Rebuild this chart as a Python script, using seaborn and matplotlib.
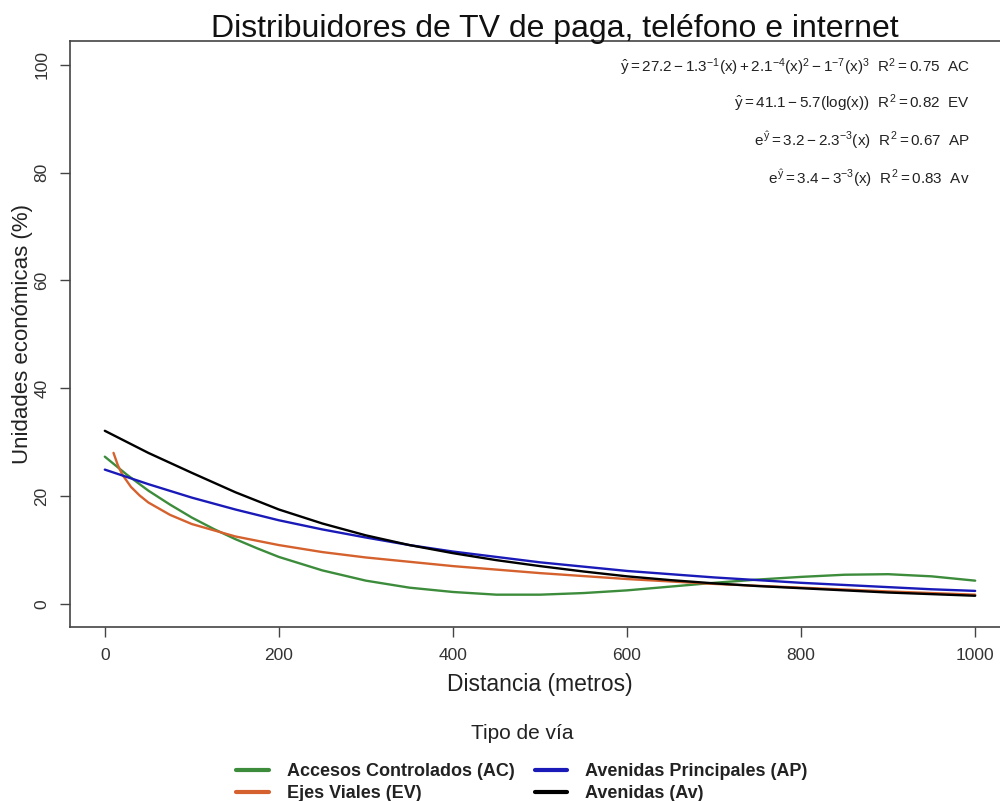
import numpy as np
import pandas as pd
import matplotlib
matplotlib.use("Agg")
import matplotlib.pyplot as plt
import seaborn as sns

# ---- data ----
x_ac = [0, 25, 50, 75, 100, 125, 150, 175, 200, 250, 300, 350, 400, 450, 500, 550, 600, 650, 700, 750, 800, 850, 900, 950, 1000]
y_ac = [27.3, 24.0, 21.0, 18.4, 16.0, 13.9, 12.0, 10.3, 8.7, 6.2, 4.3, 3.0, 2.2, 1.7, 1.7, 2.0, 2.5, 3.2, 3.9, 4.5, 5.0, 5.4, 5.5, 5.1, 4.3]

x_ev = [10, 15, 20, 30, 40, 50, 75, 100, 150, 200, 250, 300, 400, 500, 600, 700, 800, 900, 1000]
y_ev = [28.0, 25.7, 24.0, 21.7, 20.1, 18.8, 16.5, 14.8, 12.5, 10.9, 9.6, 8.6, 7.0, 5.7, 4.6, 3.7, 3.0, 2.3, 1.7]

x_ap = [0, 50, 100, 150, 200, 250, 300, 350, 400, 450, 500, 550, 600, 650, 700, 750, 800, 850, 900, 950, 1000]
y_ap = [24.9, 22.2, 19.7, 17.5, 15.5, 13.8, 12.3, 10.9, 9.7, 8.7, 7.7, 6.9, 6.1, 5.5, 4.9, 4.4, 3.9, 3.5, 3.1, 2.7, 2.4]

x_av = [0, 50, 100, 150, 200, 250, 300, 350, 400, 450, 500, 550, 600, 650, 700, 750, 800, 850, 900, 950, 1000]
y_av = [32.1, 28.0, 24.3, 20.7, 17.5, 14.9, 12.7, 10.9, 9.4, 8.1, 7.0, 6.0, 5.1, 4.4, 3.8, 3.3, 2.9, 2.5, 2.1, 1.8, 1.5]

series_names = ["Accesos Controlados (AC)", "Ejes Viales (EV)", "Avenidas Principales (AP)", "Avenidas (Av)"]
series_colors = ["#3c8c3c", "#d5622e", "#1a1ab8", "#000000"]

equations = [
    r"$\hat{y} = 27.2 - 1.3^{-1}(x) + 2.1^{-4}(x)^{2} - 1^{-7}(x)^{3}\ \ R^{2} = 0.75\ \ \mathrm{AC}$",
    r"$\hat{y} = 41.1 - 5.7(\log(x))\ \ R^{2} = 0.82\ \ \mathrm{EV}$",
    r"$e^{\hat{y}} = 3.2 - 2.3^{-3}(x)\ \ R^{2} = 0.67\ \ \mathrm{AP}$",
    r"$e^{\hat{y}} = 3.4 - 3^{-3}(x)\ \ R^{2} = 0.83\ \ \mathrm{Av}$",
]

title = "Distribuidores de TV de paga, teléfono e internet"
xlabel = "Distancia (metros)"
ylabel = "Unidades económicas (%)"
legend_title = "Tipo de vía"
xticks = [0, 200, 400, 600, 800, 1000]
yticks = [0, 20, 40, 60, 80, 100]

frames = []
for name, xs, ys in zip(series_names, [x_ac, x_ev, x_ap, x_av], [y_ac, y_ev, y_ap, y_av]):
    frames.append(pd.DataFrame({"x": xs, "y": ys, "serie": name}))
df = pd.concat(frames, ignore_index=True)

sns.set_theme(style="white")
plt.rcParams["font.family"] = ["Liberation Sans", "DejaVu Sans"]
plt.rcParams["mathtext.fontset"] = "custom"
plt.rcParams["mathtext.rm"] = "Liberation Sans"
plt.rcParams["mathtext.it"] = "Liberation Sans"
plt.rcParams["mathtext.bf"] = "Liberation Sans:bold"

fig = plt.figure(figsize=(10, 8.01), dpi=100)
ax = fig.add_axes([0.07, 0.2172, 0.94, 0.7316])

sns.lineplot(data=df, x="x", y="y", hue="serie", hue_order=series_names,
             palette=dict(zip(series_names, series_colors)), linewidth=1.7,
             ax=ax, legend=True, estimator=None, sort=True)

ax.set_xlim(-40, 1040)
ax.set_ylim(-4.3, 104.4)
ax.set_xticks(xticks)
ax.set_yticks(yticks)
ax.tick_params(axis="both", direction="out", length=7, width=1, color="#444444",
               labelsize=12.5, labelcolor="#333333", bottom=True, left=True, pad=8)
for lab in ax.get_yticklabels():
    lab.set_rotation(90)
    lab.set_va("center")
for s in ["left", "bottom", "top", "right"]:
    ax.spines[s].set_color("#444444")
    ax.spines[s].set_linewidth(1.2)

ax.set_xlabel(xlabel, fontsize=16.5, color="#222222")
ax.set_ylabel(ylabel, fontsize=16, color="#222222")
ax.xaxis.set_label_coords(0.5, -0.0785)
ax.yaxis.set_label_coords(-0.039, 0.5)
fig.text(0.555, 0.964, title, fontsize=23, ha="center", va="center", color="#111111")

ypos = [67, 103, 140, 178]
for eq, yp in zip(equations, ypos):
    fig.text(0.970, 1 - yp / 801, eq, fontsize=11, ha="right", va="center", color="#222222")

handles, labels = ax.get_legend_handles_labels()
ax.get_legend().remove()
leg = fig.legend(handles, labels, loc="center", bbox_to_anchor=(0.522, 0.047), ncol=2,
                 title=legend_title, frameon=False, prop={"weight": "bold", "size": 13},
                 title_fontsize=15, handlelength=1.8, columnspacing=1.1, labelspacing=0.3,
                 handletextpad=1.0)
leg.get_title().set_color("#222222")
leg._legend_box.sep = 14
for t in leg.get_texts():
    t.set_color("#222222")
for h in leg.legend_handles:
    h.set_linewidth(3)

fig.savefig("out.png", dpi=100)
